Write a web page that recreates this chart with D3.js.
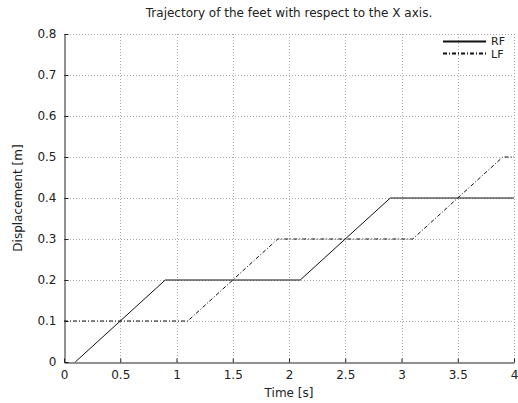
<!DOCTYPE html>
<html>
<head>
<meta charset="utf-8">
<script src="https://cdn.jsdelivr.net/npm/d3@7"></script>
<style>
body { margin: 0; background: #fff; }
text { font-family: "DejaVu Sans", sans-serif; fill: #222; }
</style>
</head>
<body>
<svg id="chart"></svg>
<script>
const width = 518;
const height = 403;

// series data
const rfTime = [0.1, 0.9, 2.1, 2.9, 4];
const rfDisp = [0, 0.2, 0.2, 0.4, 0.4];
const lfTime = [0, 1.1, 1.9, 3.1, 3.9, 4];
const lfDisp = [0.1, 0.1, 0.3, 0.3, 0.5, 0.5];

const xTicks = [0, 0.5, 1, 1.5, 2, 2.5, 3, 3.5, 4];
const yTicks = [0, 0.1, 0.2, 0.3, 0.4, 0.5, 0.6, 0.7, 0.8];

const margin = { left: 64, right: 4, top: 34, bottom: 41 };

const svg = d3.select("#chart")
    .attr("width", width)
    .attr("height", height);

const x = d3.scaleLinear().domain([0, 4]).range([margin.left, width - margin.right]);
const y = d3.scaleLinear().domain([0, 0.8]).range([height - margin.bottom, margin.top]);

// grid
const grid = svg.append("g")
    .attr("stroke", "#aaa")
    .attr("stroke-width", 1)
    .attr("stroke-dasharray", "1,2");

grid.selectAll(".gx")
    .data(xTicks.slice(1))
    .enter()
    .append("line")
    .attr("x1", d => Math.round(x(d)) + 0.5)
    .attr("x2", d => Math.round(x(d)) + 0.5)
    .attr("y1", y(0))
    .attr("y2", y(0.8));

grid.selectAll(".gy")
    .data(yTicks.slice(1))
    .enter()
    .append("line")
    .attr("x1", x(0))
    .attr("x2", x(4))
    .attr("y1", d => Math.round(y(d)) + 0.5)
    .attr("y2", d => Math.round(y(d)) + 0.5);

// axes
const fmt = d => d3.format("")(d);

const xAxis = svg.append("g")
    .attr("transform", `translate(0,${Math.round(y(0)) + 0.5})`)
    .call(d3.axisBottom(x).tickValues(xTicks).tickFormat(fmt).tickSizeInner(-4).tickSizeOuter(0).tickPadding(8));

const yAxis = svg.append("g")
    .attr("transform", `translate(${Math.round(x(0)) + 0.5},0)`)
    .call(d3.axisLeft(y).tickValues(yTicks).tickFormat(fmt).tickSizeInner(-4).tickSizeOuter(0).tickPadding(8));

[xAxis, yAxis].forEach(a => {
    a.select(".domain").attr("stroke", "#222");
    a.selectAll(".tick line").attr("stroke", "#222");
    a.selectAll(".tick text")
        .style("font-family", "DejaVu Sans, sans-serif")
        .style("font-size", "12px")
        .attr("fill", "#222");
});

// lines
const line = d3.line().x(d => x(d[0])).y(d => y(d[1]));

svg.append("path")
    .datum(d3.zip(rfTime, rfDisp))
    .attr("d", line)
    .attr("fill", "none")
    .attr("stroke", "#111")
    .attr("stroke-width", 1);

svg.append("path")
    .datum(d3.zip(lfTime, lfDisp))
    .attr("d", line)
    .attr("fill", "none")
    .attr("stroke", "#111")
    .attr("stroke-width", 1)
    .attr("stroke-dasharray", "4,2,1,2");

// legend
const legend = svg.append("g");
legend.append("line")
    .attr("x1", 443).attr("x2", 486)
    .attr("y1", 41.5).attr("y2", 41.5)
    .attr("stroke", "#111").attr("stroke-width", 2);
legend.append("line")
    .attr("x1", 443).attr("x2", 486)
    .attr("y1", 53.5).attr("y2", 53.5)
    .attr("stroke", "#111").attr("stroke-width", 2)
    .attr("stroke-dasharray", "4,2,1,2");
legend.append("text").attr("x", 491).attr("y", 45)
    .style("font-size", "11px").text("RF");
legend.append("text").attr("x", 491).attr("y", 57.5)
    .style("font-size", "11px").text("LF");

// titles
svg.append("text")
    .attr("x", (x(0) + x(4)) / 2)
    .attr("y", 17)
    .attr("text-anchor", "middle")
    .style("font-size", "12px")
    .text("Trajectory of the feet with respect to the X axis.");

svg.append("text")
    .attr("x", (x(0) + x(4)) / 2)
    .attr("y", 397)
    .attr("text-anchor", "middle")
    .style("font-size", "12px")
    .text("Time [s]");

svg.append("text")
    .attr("transform", `translate(22,${(y(0) + y(0.8)) / 2}) rotate(-90)`)
    .attr("text-anchor", "middle")
    .style("font-size", "12px")
    .text("Displacement [m]");
</script>
</body>
</html>
